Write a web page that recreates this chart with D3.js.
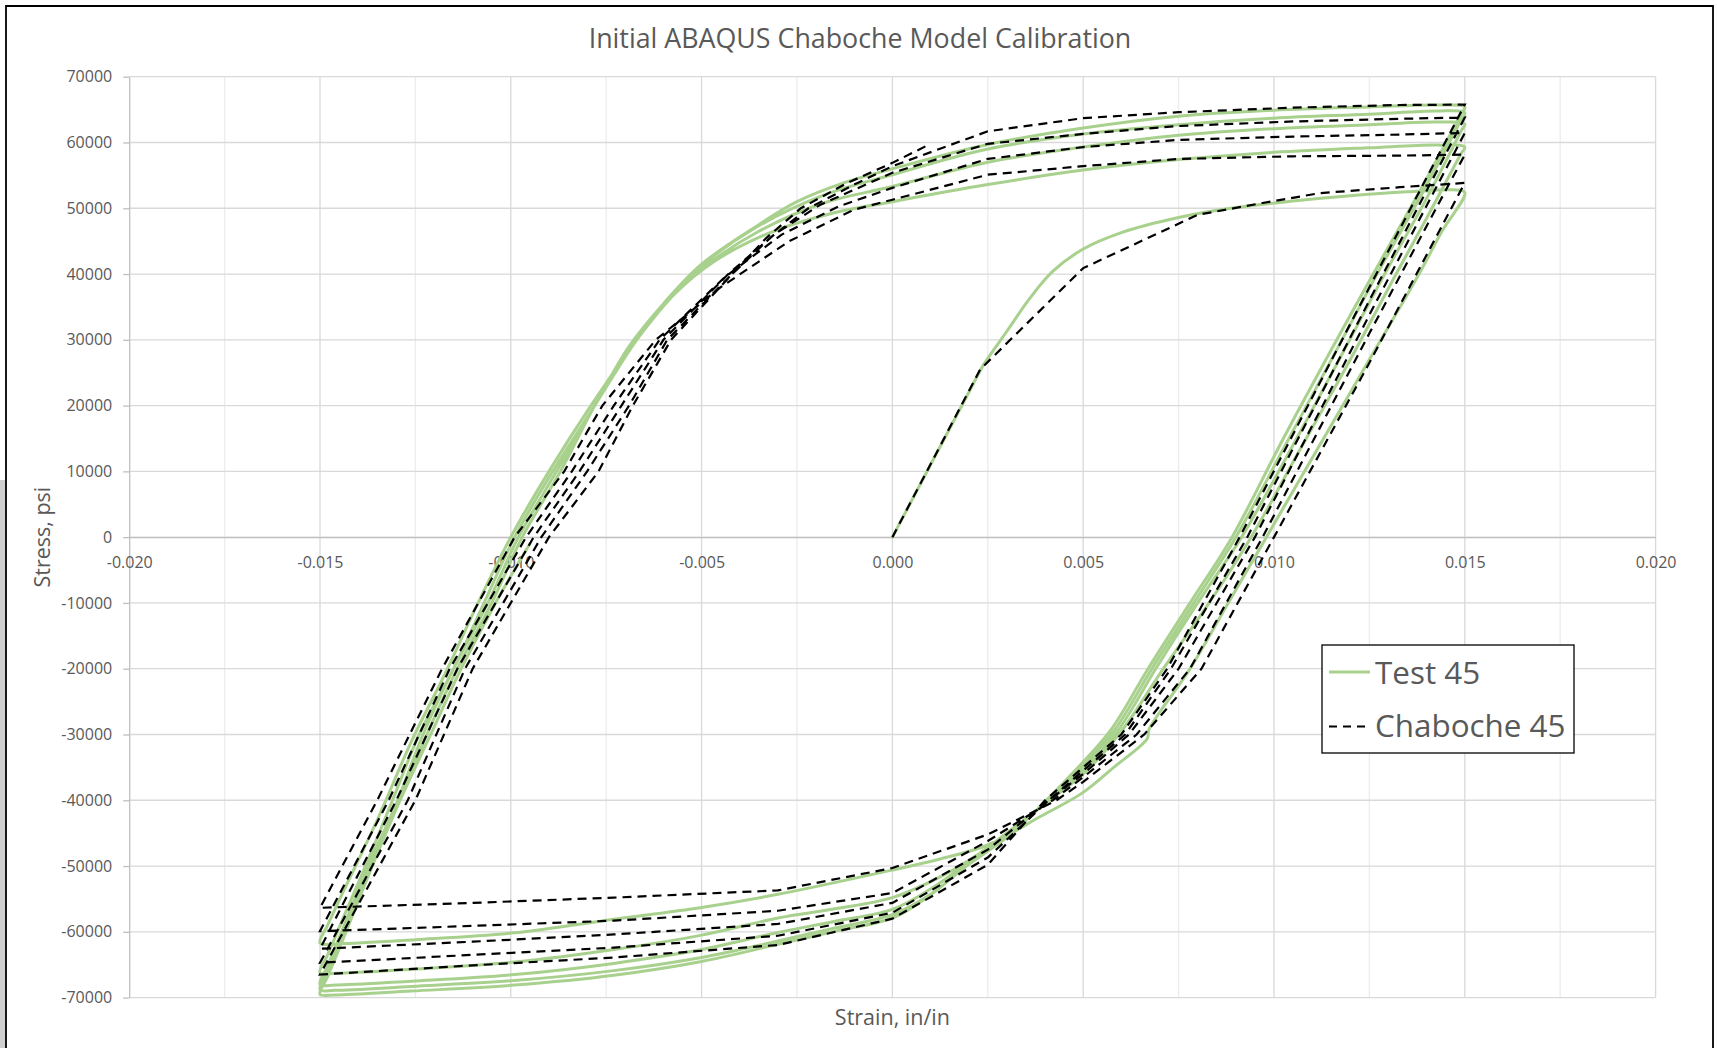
<!DOCTYPE html>
<html><head><meta charset="utf-8">
<script src="https://cdn.jsdelivr.net/npm/d3@7"></script>
<style>
html,body{margin:0;padding:0;background:#fff;}
svg{display:block;}
text{font-family:"Open Sans",sans-serif;fill:#595959;}
</style></head><body>
<svg id="chart" width="1717" height="1048"></svg>
<script>
// ---------- tick labels ----------
const xTicks = [-0.020,-0.015,-0.010,-0.005,0.000,0.005,0.010,0.015,0.020];
const xMinorTicks = [-0.0175,-0.0125,-0.0075,-0.0025,0.0025,0.0075,0.0125,0.0175];
const yTicks = [-70000,-60000,-50000,-40000,-30000,-20000,-10000,0,10000,20000,30000,40000,50000,60000,70000];
const seriesNames = ["Test 45","Chaboche 45"];

// ---------- Test 45 (strain, stress) ----------
const testLoad = [[0,0],[0.0010,11000],[0.0020,22000],[0.0024,26300],[0.0030,31300],[0.0036,36300],[0.0042,40400],[0.0050,43800],[0.0060,46300],[0.0075,48600],[0.0090,50100],[0.0105,51100],[0.0120,51900],[0.0135,52500],[0.0147,52800]];
const testD1 = [[0.0150,52400],[0.0144,46500],[0.0138,40000],[0.0125,27000],[0.0112,14000],[0.0098,0],[0.0088,-10000],[0.0078,-20000],[0.00672,-29300],[0.00668,-30600],[0.0058,-35000],[0.0050,-38800],[0.0039,-42400],[0.0025,-46800],[0.0012,-49000],[0.0000,-50600],[-0.0030,-54300],[-0.0050,-56300],[-0.0073,-58100],[-0.0099,-60150],[-0.0125,-61200],[-0.0145,-61800],[-0.0150,-61700]];
const testA2 = [[-0.0150,-61700],[-0.0148,-59000],[-0.0144,-54000],[-0.0135,-43000],[-0.0126,-31000],[-0.0117,-20500],[-0.0109,-10500],[-0.0100,0],[-0.0090,10000],[-0.0079,20000],[-0.0067,30000],[-0.0057,37000],[-0.0047,41800],[-0.0032,46300],[-0.0016,49200],[0.0000,51000],[0.0025,53600],[0.0050,55800],[0.0075,57400],[0.0100,58500],[0.0125,59200],[0.0143,59600],[0.0150,59300]];
const testD2 = [[0.0150,59300],[0.0149,58300],[0.0140,48500],[0.0132,40000],[0.0120,27000],[0.0107,13500],[0.0094,0],[0.0083,-10000],[0.0071,-20000],[0.0060,-29500],[0.0050,-36000],[0.0040,-40500],[0.0031,-44500],[0.0023,-48000],[0.0012,-51800],[0.0000,-54800],[-0.0015,-56500],[-0.0030,-57900],[-0.0050,-60500],[-0.0073,-62700],[-0.0099,-64600],[-0.0126,-65700],[-0.0146,-66300],[-0.0150,-66200]];
const testA3 = [[-0.0150,-66200],[-0.0148,-63500],[-0.0144,-58000],[-0.0137,-48500],[-0.0131,-40000],[-0.0124,-30000],[-0.0115,-20000],[-0.0107,-10000],[-0.0099,0],[-0.0089,10000],[-0.0078,20000],[-0.0067,30000],[-0.0058,36500],[-0.0050,40800],[-0.0035,46500],[-0.0018,50800],[0.0000,53300],[0.0025,57000],[0.0050,59300],[0.0075,61100],[0.0100,62100],[0.0125,62700],[0.0143,63100],[0.0150,62800]];
const testD3 = [[0.0150,62800],[0.0149,61700],[0.0140,51500],[0.0129,40000],[0.0118,28000],[0.0105,14000],[0.00915,0],[0.0080,-10000],[0.0069,-20000],[0.0059,-29500],[0.0049,-36000],[0.0040,-40500],[0.0031,-44800],[0.0021,-49000],[0.0010,-53500],[0.0000,-56600],[-0.0015,-58400],[-0.0030,-60100],[-0.0050,-62700],[-0.0073,-64800],[-0.0099,-66500],[-0.0126,-67500],[-0.0146,-68100],[-0.0150,-68000]];
const testA4 = [[-0.0150,-68000],[-0.0148,-65200],[-0.0144,-59500],[-0.0137,-49500],[-0.0130,-40500],[-0.0123,-30000],[-0.0115,-20000],[-0.0106,-10000],[-0.0098,0],[-0.0088,10000],[-0.0078,20000],[-0.0068,29500],[-0.0059,36000],[-0.0051,40800],[-0.0036,47000],[-0.0018,52000],[0.0000,55100],[0.0025,59000],[0.0050,61300],[0.0075,62700],[0.0100,63700],[0.0125,64300],[0.0143,64800],[0.0150,64500]];
const testD4 = [[0.0150,64500],[0.0149,63400],[0.0140,53500],[0.0127,40000],[0.0116,28000],[0.0103,14000],[0.0090,0],[0.0079,-10000],[0.0068,-20000],[0.0058,-29500],[0.0048,-36000],[0.0040,-40300],[0.0031,-45000],[0.0020,-49700],[0.0010,-54300],[0.0000,-57400],[-0.0015,-59400],[-0.0030,-61400],[-0.0050,-63900],[-0.0073,-65900],[-0.0099,-67400],[-0.0126,-68300],[-0.0146,-68900],[-0.0150,-68800]];
const testA5 = [[-0.0150,-68800],[-0.0148,-66000],[-0.0144,-60500],[-0.0137,-50500],[-0.0130,-41000],[-0.0122,-30000],[-0.0114,-20000],[-0.0105,-10000],[-0.0097,0],[-0.0087,10000],[-0.0078,20000],[-0.0069,29000],[-0.0060,35500],[-0.0050,41500],[-0.0035,47500],[-0.0025,51000],[-0.0012,54000],[0.0000,56000],[0.0025,59700],[0.0050,62200],[0.0075,64000],[0.0100,64900],[0.0125,65400],[0.0143,65700],[0.0150,65400]];
const testD5 = [[0.0150,65400],[0.0149,64300],[0.0140,54500],[0.0126,40000],[0.0115,28500],[0.0102,14500],[0.0089,0],[0.0078,-10000],[0.0067,-20000],[0.0057,-29500],[0.0047,-36000],[0.0040,-40200],[0.0031,-45200],[0.0019,-50200],[0.0009,-54800],[0.0000,-57900],[-0.0015,-59900],[-0.0030,-61900],[-0.0050,-64500],[-0.0073,-66600],[-0.0099,-68100],[-0.0126,-69000],[-0.0146,-69600],[-0.0150,-69500]];
const testA6 = [[-0.0150,-69500],[-0.0148,-66800],[-0.0144,-61200],[-0.0137,-51000],[-0.0129,-40000],[-0.0121,-30000],[-0.0113,-20000],[-0.0104,-10000],[-0.0095,-1000]];

// ---------- Chaboche 45 (strain, stress) ----------
const chabLoad = [[0,0],[0.0023,25500],[0.0050,40900],[0.0080,49000],[0.0097,50800],[0.0112,52300],[0.0133,53200],[0.0150,53850]];
const chabD1 = [[0.0150,53850],[0.0125,26500],[0.0100,0],[0.0081,-20000],[0.0066,-30000],[0.0050,-37200],[0.0043,-40000],[0.0025,-45200],[0.0000,-50300],[-0.0030,-53700],[-0.0073,-54800],[-0.0110,-55600],[-0.0150,-56350]];
const chabA2 = [[-0.0150,-56350],[-0.0135,-40000],[-0.0118,-20000],[-0.0099,0],[-0.0086,10000],[-0.0076,20000],[-0.0062,30000],[-0.0045,38000],[-0.0027,45000],[-0.0010,49800],[0.0000,51300],[0.0025,55100],[0.0050,56400],[0.0075,57500],[0.0105,57900],[0.0133,58000],[0.0150,58150]];
const chabD2 = [[0.0150,58150],[0.0125,31000],[0.0097,0],[0.0078,-20000],[0.0064,-30000],[0.0050,-36500],[0.0042,-40000],[0.0025,-46200],[0.0000,-54100],[-0.0030,-56800],[-0.0073,-58300],[-0.0110,-59100],[-0.0150,-59900]];
const chabA3 = [[-0.0150,-59900],[-0.0132,-40000],[-0.0116,-20000],[-0.0096,0],[-0.0084,10000],[-0.0073,20000],[-0.0061,30000],[-0.0044,39500],[-0.0029,46000],[-0.0014,50300],[0.0000,53100],[0.0025,57500],[0.0050,59300],[0.0075,60400],[0.0105,60900],[0.0133,61200],[0.0150,61450]];
const chabD3 = [[0.0150,61450],[0.0125,33800],[0.0095,0],[0.0075,-20000],[0.0062,-30000],[0.0050,-36000],[0.0041,-40000],[0.0025,-47500],[0.0000,-55600],[-0.0030,-58800],[-0.0073,-60400],[-0.0110,-61500],[-0.0150,-62580]];
const chabA4 = [[-0.0150,-62580],[-0.0130,-40000],[-0.0114,-20000],[-0.0094,0],[-0.0082,10000],[-0.0071,20000],[-0.0060,30000],[-0.0043,40000],[-0.0031,46000],[-0.0019,50500],[0.0000,55400],[0.0025,59800],[0.0050,61300],[0.0075,62500],[0.0105,63200],[0.0133,63600],[0.0150,63800]];
const chabD4 = [[0.0150,63800],[0.0125,36000],[0.0093,0],[0.0073,-20000],[0.0061,-30000],[0.0049,-36000],[0.0041,-40000],[0.0025,-48700],[0.0000,-57100],[-0.0030,-60600],[-0.0073,-62400],[-0.0110,-63500],[-0.0150,-64700]];
const chabA5 = [[-0.0150,-64700],[-0.0127,-40000],[-0.0112,-20000],[-0.0092,0],[-0.0080,10000],[-0.0069,20000],[-0.0059,30000],[-0.0042,40000],[-0.0032,45500],[-0.0022,50000],[-0.0010,53600],[0.0000,56400],[0.0025,61700],[0.0050,63700],[0.0075,64600],[0.0105,65300],[0.0133,65700],[0.0150,65750]];
const chabD5 = [[0.0150,65750],[0.0125,38000],[0.0091,0],[0.0072,-20000],[0.0060,-30000],[0.0048,-36000],[0.0040,-40000],[0.0025,-49800],[0.0000,-58000],[-0.0030,-62000],[-0.0073,-63900],[-0.0110,-65100],[-0.0150,-66490]];
const chabA6 = [[-0.0150,-66490],[-0.0125,-40000],[-0.0110,-20000],[-0.0090,0],[-0.0077,10000],[-0.0068,20000],[-0.0058,30000],[-0.0042,40000],[-0.0033,45500],[-0.0024,50000],[-0.0012,53800],[0.0000,56900],[0.0010,59800]];

const testBranches = [testLoad,testD1,testA2,testD2,testA3,testD3,testA4,testD4,testA5,testD5,testA6];
const chabBranches = [chabLoad,chabD1,chabA2,chabD2,chabA3,chabD3,chabA4,chabD4,chabA5,chabD5,chabA6];

// ---------- layout ----------
const W = 1717, H = 1048;
const svg = d3.select("#chart");
const plot = {left:129.2, right:1655.6, top:76.7, bottom:997.6};
const x = d3.scaleLinear().domain([-0.02, 0.02]).range([plot.left, plot.right]);
const y = d3.scaleLinear().domain([-70000, 70000]).range([plot.bottom, plot.top]);
const loc = d3.formatLocale({decimal: ".", thousands: ",", grouping: [3], currency: ["$", ""], minus: "-"});

svg.append("rect").attr("width", W).attr("height", H).attr("fill", "#fff");
// grey strip at the far left edge of the picture
svg.append("rect").attr("x", 0).attr("y", 480).attr("width", 5).attr("height", H - 480).attr("fill", "#cfcfcf");

// gridlines
const grid = svg.append("g");
grid.selectAll("line.minor").data(xMinorTicks).join("line").attr("class","minor")
  .attr("x1", d => x(d)).attr("x2", d => x(d)).attr("y1", plot.top).attr("y2", plot.bottom)
  .attr("stroke", "#ececec").attr("stroke-width", 1.3);
grid.selectAll("line.vmajor").data(xTicks.slice(1)).join("line").attr("class","vmajor")
  .attr("x1", d => x(d)).attr("x2", d => x(d)).attr("y1", plot.top).attr("y2", plot.bottom)
  .attr("stroke", "#d9d9d9").attr("stroke-width", 1.3);
grid.selectAll("line.hmajor").data(yTicks).join("line").attr("class","hmajor")
  .attr("x1", plot.left).attr("x2", plot.right).attr("y1", d => y(d)).attr("y2", d => y(d))
  .attr("stroke", "#d9d9d9").attr("stroke-width", 1.3);

// y axis (left)
const yAxis = svg.append("g").attr("transform", `translate(${plot.left},0)`)
  .call(d3.axisLeft(y).tickValues(yTicks).tickSize(6).tickSizeOuter(0).tickPadding(11).tickFormat(loc.format("d")));
yAxis.select(".domain").attr("stroke", "#bfbfbf").attr("stroke-width", 1.3);
yAxis.selectAll(".tick line").attr("stroke", "#bfbfbf").attr("stroke-width", 1.3);
yAxis.selectAll("text").style("font-family", '"Open Sans",sans-serif').style("font-size", "16px").attr("fill", "#595959");

// x axis at zero
const xAxis = svg.append("g").attr("transform", `translate(0,${y(0)})`)
  .call(d3.axisBottom(x).tickValues(xTicks).tickSize(0).tickSizeOuter(0).tickPadding(19).tickFormat(loc.format(".3f")));
xAxis.select(".domain").attr("stroke", "#bfbfbf").attr("stroke-width", 1.3);
xAxis.selectAll("text").style("font-family", '"Open Sans",sans-serif').style("font-size", "16px").attr("fill", "#595959");

// series
function dedupe(pts) {
  return pts.filter((p, i) => i === 0 || p[0] !== pts[i-1][0] || p[1] !== pts[i-1][1]);
}
const testPts = dedupe(testBranches.flat());
const chabPts = dedupe(chabBranches.flat());

const lineSmooth = d3.line().x(d => x(d[0])).y(d => y(d[1])).curve(d3.curveCatmullRom.alpha(0.5));
const lineStraight = d3.line().x(d => x(d[0])).y(d => y(d[1]));

svg.append("path").datum(testPts).attr("d", lineSmooth)
  .attr("fill", "none").attr("stroke", "#a9d18e").attr("stroke-width", 3)
  .attr("stroke-linejoin", "round").attr("stroke-linecap", "round");
svg.append("path").datum(chabPts).attr("d", lineStraight)
  .attr("fill", "none").attr("stroke", "#000").attr("stroke-width", 2.2)
  .attr("stroke-dasharray", "9,6");

// title
svg.append("text").attr("x", 860).attr("y", 47.5).attr("text-anchor", "middle")
  .style("font-size", "26.8px").text("Initial ABAQUS Chaboche Model Calibration");

// axis titles
svg.append("text").attr("x", (plot.left + plot.right) / 2).attr("y", 1024.5).attr("text-anchor", "middle")
  .style("font-size", "21.5px").text("Strain, in/in");
svg.append("text").attr("transform", `translate(49.5,${(plot.top + plot.bottom) / 2}) rotate(-90)`)
  .attr("text-anchor", "middle").style("font-size", "21.5px").text("Stress, psi");

// legend
const lg = svg.append("g");
lg.append("rect").attr("x", 1322).attr("y", 645).attr("width", 252).attr("height", 108)
  .attr("fill", "#fff").attr("stroke", "#000").attr("stroke-width", 1.3);
lg.append("line").attr("x1", 1329).attr("x2", 1370).attr("y1", 672).attr("y2", 672)
  .attr("stroke", "#a9d18e").attr("stroke-width", 3);
lg.append("line").attr("x1", 1329).attr("x2", 1370).attr("y1", 726.5).attr("y2", 726.5)
  .attr("stroke", "#000").attr("stroke-width", 2.2).attr("stroke-dasharray", "8,6");
lg.append("text").attr("x", 1375).attr("y", 683.5).style("font-size", "31.4px").text(seriesNames[0]);
lg.append("text").attr("x", 1375).attr("y", 737).style("font-size", "31.4px").text(seriesNames[1]);

// chart border
svg.append("path").attr("d", `M6,${H + 5}V6H1713V${H + 5}`)
  .attr("fill", "none").attr("stroke", "#000").attr("stroke-width", 1.8);
</script>
</body></html>
